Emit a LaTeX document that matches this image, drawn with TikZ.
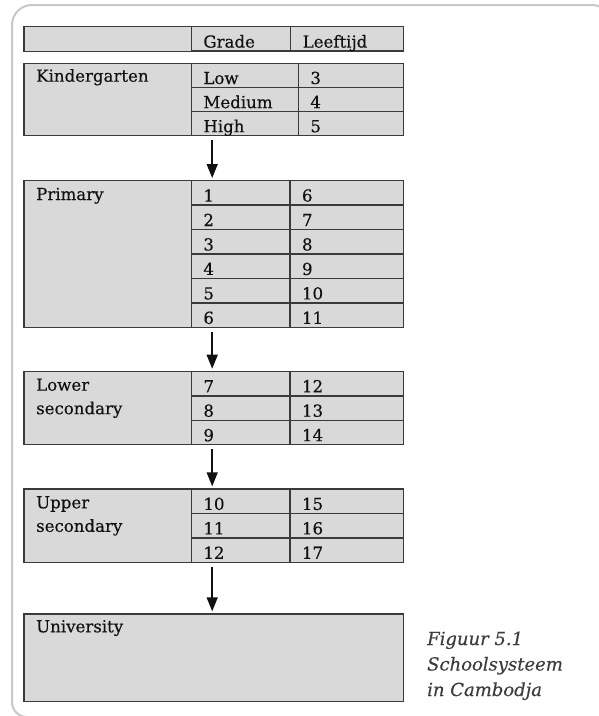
\documentclass[tikz,border=0pt]{standalone}
\usepackage{fontspec}
\setmainfont{DejaVu Serif}[FakeBold=0.35]
\usetikzlibrary{arrows.meta,calc}
\definecolor{cellfill}{HTML}{D9D9D9}
\definecolor{cellline}{HTML}{3A3A3A}
\definecolor{ink}{HTML}{111111}
\definecolor{framegray}{HTML}{C8C8C8}
\definecolor{captiongray}{HTML}{3C3C3C}
\tikzset{
  txt/.style={font=\fontsize{16.6}{24.4}\selectfont, text=ink},
  box/.style={draw=cellline, fill=cellfill, line width=1.4pt, anchor=north west,
              inner sep=0pt, minimum height=#1},
  cell/.style={box=24.4pt, txt, minimum width=#1, text width=#1-24pt,
               inner xsep=12pt, align=left, text height=20.9pt, text depth=3.5pt},
  lbl/.style={txt, anchor=base west, inner sep=0pt},
  flow/.style={draw=ink, line width=1.5pt, -{Triangle[length=14pt,width=11pt]}},
  caption/.style={font=\fontsize{18}{25.5}\selectfont\itshape, text=captiongray,
                  anchor=base west, inner sep=0pt, align=left}
}
\begin{document}
\begin{tikzpicture}[x=1pt,y=-1pt]
\useasboundingbox (0,0) rectangle (599,716);

% outer frame, open to the right
\draw[framegray, line width=2pt, rounded corners=20pt]
  (612,60) -- (612,5) -- (12,5) [rounded corners=15pt] -- (12,717) -- (30,717);

% header row
\node[box=24.7pt, minimum width=167.4pt] (h-l) at (23.3,26) {};
\node[cell=99.3pt] (h-g) at (190.7,26) {Grade};
\node[cell=113pt]  (h-a) at (290,26) {Leeftijd};

% kindergarten
\node[box=72.3pt, minimum width=167.4pt] (kg) at (23.3,62.7) {};
\node[lbl] (kg-t) at ($(kg.north west)+(12.7,19)$) {Kindergarten};
\foreach \g/\a [count=\i from 0] in {Low/3,Medium/4,High/5} {
  \node[cell=107pt, minimum height=24.1pt, text height=20.6pt] (kg-g\i) at (190.7,62.7+24.1*\i) {\g};
  \node[cell=105.3pt, minimum height=24.1pt, text height=20.6pt] (kg-a\i) at (297.7,62.7+24.1*\i) {\a};
}

% primary
\node[box=146.7pt, minimum width=167.4pt] (pr) at (23.3,180) {};
\node[lbl] (pr-t) at ($(pr.north west)+(12.7,20)$) {Primary};
\foreach \g/\a [count=\i from 0] in {1/6,2/7,3/8,4/9,5/10,6/11} {
  \node[cell=98.6pt]  (pr-g\i) at (190.7,180+24.45*\i) {\g};
  \node[cell=113.7pt] (pr-a\i) at (289.3,180+24.45*\i) {\a};
}

% lower secondary
\node[box=73.3pt, minimum width=167.4pt] (ls) at (23.3,370.7) {};
\node[lbl] (ls-t1) at ($(ls.north west)+(12.7,20)$) {Lower};
\node[lbl] (ls-t2) at ($(ls.north west)+(12.7,43.5)$) {secondary};
\foreach \g/\a [count=\i from 0] in {7/12,8/13,9/14} {
  \node[cell=98.6pt]  (ls-g\i) at (190.7,370.7+24.43*\i) {\g};
  \node[cell=113.7pt] (ls-a\i) at (289.3,370.7+24.43*\i) {\a};
}

% upper secondary
\node[box=73.4pt, minimum width=167.4pt] (us) at (23.3,488.3) {};
\node[lbl] (us-t1) at ($(us.north west)+(12.7,20)$) {Upper};
\node[lbl] (us-t2) at ($(us.north west)+(12.7,43.5)$) {secondary};
\foreach \g/\a [count=\i from 0] in {10/15,11/16,12/17} {
  \node[cell=98.6pt]  (us-g\i) at (190.7,488.3+24.47*\i) {\g};
  \node[cell=113.7pt] (us-a\i) at (289.3,488.3+24.47*\i) {\a};
}

% university
\node[box=87.5pt, minimum width=379.7pt] (un) at (23.3,613.3) {};
\node[lbl] (un-t) at ($(un.north west)+(12.7,19)$) {University};

% transitions between stages
\draw[flow] ($(kg-g2.south west)+(21.5,4)$) -- ($(pr-g0.north west)+(21.5,-2)$);
\draw[flow] ($(pr-g5.south west)+(21.5,4)$) -- ($(ls-g0.north west)+(21.5,-2)$);
\draw[flow] ($(ls-g2.south west)+(21.5,4)$) -- ($(us-g0.north west)+(21.5,-2)$);
\draw[flow] ($(us-g2.south west)+(21.5,4)$) -- ($(un.north west)+(188.9,-2)$);

% caption; the base anchor sits on the last line
\node[caption] (cap) at (427,696) {Figuur 5.1\\Schoolsysteem\\in Cambodja};
\end{tikzpicture}
\end{document}
